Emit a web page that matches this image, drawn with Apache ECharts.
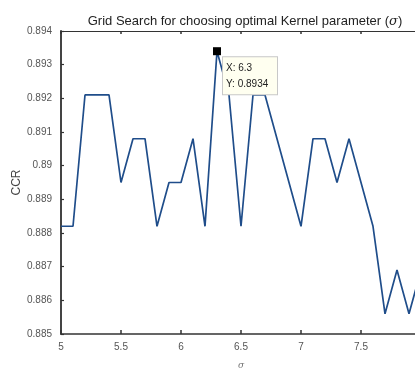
<!DOCTYPE html>
<html>
<head>
<meta charset="utf-8">
<script src="https://cdn.jsdelivr.net/npm/echarts@6/dist/echarts.min.js"></script>
<style>
  html, body { margin: 0; padding: 0; background: #ffffff; }
  #chart { width: 415px; height: 368px; }
</style>
</head>
<body>
<div id="chart"></div>
<script>
// Kernel width sigma tried in the grid search
var sigmaValues = [5.0, 5.1, 5.2, 5.3, 5.4, 5.5, 5.6, 5.7, 5.8, 5.9,
                   6.0, 6.1, 6.2, 6.3, 6.4, 6.5, 6.6, 6.7, 6.8, 6.9,
                   7.0, 7.1, 7.2, 7.3, 7.4, 7.5, 7.6, 7.7, 7.8, 7.9, 8.0];
// Correct classification rate for each sigma
var ccrValues = [0.8882, 0.8882, 0.8921, 0.8921, 0.8921, 0.8895, 0.8908, 0.8908, 0.8882, 0.8895,
                 0.8895, 0.8908, 0.8882, 0.8934, 0.8921, 0.8882, 0.8921, 0.8921, 0.8908, 0.8895,
                 0.8882, 0.8908, 0.8908, 0.8895, 0.8908, 0.8895, 0.8882, 0.8856, 0.8869, 0.8856, 0.8869];
// Highlighted data tip
var tipSigma = 6.3;
var tipCcr = 0.8934;

var points = sigmaValues.map(function (s, i) { return [s, ccrValues[i]]; });

var chart = echarts.init(document.getElementById('chart'), null, { renderer: 'canvas' });

var axisFont = { color: '#555', fontSize: 10, fontFamily: 'Liberation Sans, Arial, sans-serif' };

chart.setOption({
  animation: false,
  backgroundColor: '#ffffff',
  title: {
    text: 'Grid Search for choosing optimal Kernel parameter ({i|σ})',
    left: 240,
    textAlign: 'center',
    top: 10,
    textStyle: {
      fontSize: 13,
      fontWeight: 'normal',
      color: '#222',
      fontFamily: 'Liberation Sans, Arial, sans-serif',
      rich: { i: { fontStyle: 'italic', fontSize: 13, color: '#222', fontFamily: 'DejaVu Serif, serif' } }
    }
  },
  grid: { left: 61, right: -6, top: 31, bottom: 34, containLabel: false, outerBoundsMode: 'none' },
  xAxis: [{
    type: 'value',
    position: 'bottom',
    min: 5, max: 8, interval: 0.5,
    name: 'σ',
    nameLocation: 'middle',
    nameGap: 27,
    nameMoveOverlap: false,
    nameTextStyle: { color: '#777', fontSize: 9, fontStyle: 'italic', fontFamily: 'DejaVu Serif, serif' },
    axisLine: { show: true, onZero: false, lineStyle: { color: '#333', width: 1.5 } },
    axisTick: { show: true, inside: true, length: 4, lineStyle: { color: '#333', width: 1.5 } },
    axisLabel: Object.assign({ margin: 8 }, axisFont),
    splitLine: { show: false }
  }, {
    type: 'value',
    position: 'top',
    min: 5, max: 8, interval: 0.5,
    axisLine: { show: true, onZero: false, lineStyle: { color: '#333', width: 1.2 } },
    axisTick: { show: true, inside: true, length: 3, lineStyle: { color: '#333', width: 1.5 } },
    axisLabel: { show: false },
    splitLine: { show: false }
  }],
  yAxis: {
    type: 'value',
    min: 0.885, max: 0.894, interval: 0.001,
    name: 'CCR',
    nameLocation: 'middle',
    nameRotate: 90,
    nameGap: 38,
    nameMoveOverlap: false,
    nameTextStyle: { color: '#444', fontSize: 12, fontFamily: 'Liberation Sans, Arial, sans-serif' },
    axisLine: { show: true, onZero: false, lineStyle: { color: '#444', width: 2 } },
    axisTick: { show: true, inside: true, length: 3, lineStyle: { color: '#333', width: 1.2 } },
    axisLabel: Object.assign({ margin: 9 }, axisFont),
    splitLine: { show: false }
  },
  series: [{
    type: 'line',
    data: points,
    showSymbol: false,
    symbol: 'none',
    clip: true,
    lineStyle: { color: '#1f4d8a', width: 1.7 },
    markPoint: {
      silent: true,
      data: [{
        coord: [tipSigma, tipCcr],
        symbol: 'rect',
        symbolSize: 8,
        itemStyle: { color: '#000' },
        label: {
          show: true,
          position: [10, 10],
          align: 'left',
          verticalAlign: 'top',
          formatter: 'X: ' + tipSigma + '\nY: ' + tipCcr,
          color: '#222',
          fontSize: 10,
          lineHeight: 16,
          fontFamily: 'Liberation Sans, Arial, sans-serif',
          backgroundColor: '#fffff0',
          borderColor: '#c8c8c8',
          borderWidth: 1,
          padding: [3, 6, 2, 3],
          width: 45
        }
      }]
    }
  }]
});
</script>
</body>
</html>
